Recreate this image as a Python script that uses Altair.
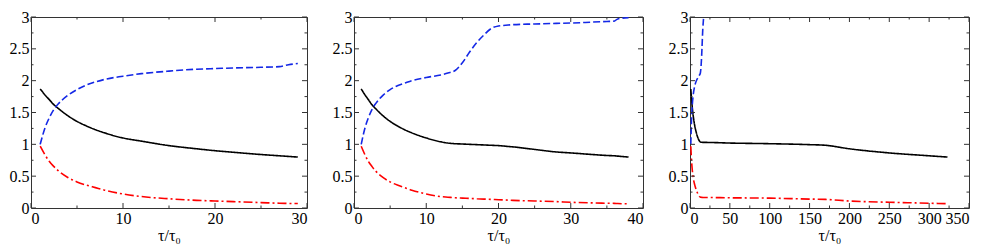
import altair as alt
import pandas as pd

# ---------------- data ----------------
# panel 1
t1 = [1, 1.5, 2, 2.5, 3, 4, 5, 6, 7, 8, 10, 12, 15, 18, 20, 22, 25, 27, 28, 29]
black1 = [1.87, 1.78, 1.70, 1.62, 1.56, 1.45, 1.36, 1.29, 1.23, 1.18, 1.10, 1.05,
          0.98, 0.93, 0.90, 0.875, 0.84, 0.82, 0.81, 0.80]
blue1 = [1.0, 1.25, 1.42, 1.55, 1.64, 1.77, 1.86, 1.93, 1.98, 2.02, 2.07, 2.11,
         2.15, 2.18, 2.19, 2.20, 2.21, 2.22, 2.25, 2.27]
red1 = [0.97, 0.84, 0.73, 0.65, 0.58, 0.48, 0.41, 0.36, 0.32, 0.28, 0.22, 0.18,
        0.145, 0.12, 0.11, 0.10, 0.085, 0.075, 0.072, 0.07]

# panel 2
t2 = [1, 1.5, 2, 2.5, 3, 4, 5, 6, 7, 8, 10, 12, 13, 14, 15, 16, 17, 18, 19, 20,
      21, 22, 25, 28, 30, 33, 35, 36, 36.5, 38]
black2 = [1.87, 1.78, 1.70, 1.62, 1.56, 1.45, 1.36, 1.29, 1.23, 1.18, 1.10, 1.04,
          1.02, 1.01, 1.005, 1.0, 0.995, 0.99, 0.985, 0.98, 0.97, 0.96, 0.92, 0.88,
          0.865, 0.84, 0.825, 0.82, 0.815, 0.80]
blue2 = [1.0, 1.25, 1.42, 1.55, 1.64, 1.77, 1.86, 1.92, 1.96, 2.0, 2.05, 2.09,
         2.12, 2.16, 2.28, 2.45, 2.60, 2.72, 2.82, 2.86, 2.87, 2.88, 2.89, 2.90,
         2.905, 2.92, 2.93, 2.935, 2.97, 2.99]
red2 = [0.97, 0.84, 0.73, 0.65, 0.58, 0.48, 0.41, 0.36, 0.32, 0.28, 0.22, 0.18,
        0.17, 0.16, 0.155, 0.15, 0.145, 0.14, 0.135, 0.13, 0.125, 0.12, 0.11, 0.10,
        0.09, 0.08, 0.075, 0.073, 0.07, 0.065]

# panel 3
t3 = [1, 2, 3, 4, 6, 8, 10, 12, 13, 14, 15, 16, 17, 18, 20, 50, 100, 150, 170,
      200, 250, 300, 323]
black3 = [1.87, 1.70, 1.56, 1.45, 1.29, 1.18, 1.10, 1.05, 1.035, 1.033, 1.032,
          1.031, 1.03, 1.03, 1.03, 1.02, 1.01, 0.995, 0.985, 0.93, 0.865, 0.82, 0.80]
blue3 = [1.0, 1.42, 1.64, 1.77, 1.92, 2.0, 2.05, 2.09, 2.12, 2.25, 2.5, 2.8, 2.98,
         3.15, 3.4, None, None, None, None, None, None, None, None]
red3 = [0.97, 0.73, 0.58, 0.48, 0.36, 0.28, 0.22, 0.18, 0.17, 0.168, 0.167, 0.166,
        0.165, 0.165, 0.165, 0.16, 0.155, 0.14, 0.135, 0.11, 0.09, 0.075, 0.068]

# axis ticks / labels
xmaj1, xmin1, xmax1 = [0, 10, 20, 30], [5, 15, 25], 30
xmaj2, xmin2, xmax2 = [0, 10, 20, 30, 40], [5, 15, 25, 35], 40
xmaj3, xmin3, xmax3 = [0, 50, 100, 150, 200, 250, 300, 350], [25, 75, 125, 175, 225, 275, 325], 350
ymaj = [0, 0.5, 1, 1.5, 2, 2.5, 3]
ymin = [0.25, 0.75, 1.25, 1.75, 2.25, 2.75]
x_title = "τ/τ₀"

series = ["black", "blue", "red"]
series_colors = ["#000000", "#1428e6", "#ff0000"]
series_dash = [[1, 0], [7, 3], [9, 3, 2, 3]]
series_width = [1.6, 1.6, 2.4]

FRAME = "#333333"
FONT = "Liberation Serif"
H = 191
MAJ, MIN = 5, 2.5


def panel(ts, blk, blu, rd, xmaj, xmin, xmax, w):
    df = pd.DataFrame({"t": ts, "black": blk, "blue": blu, "red": rd})
    xsc = alt.Scale(domain=[0, xmax], nice=False, zero=False)
    ysc = alt.Scale(domain=[0, 3], nice=False)
    xax = alt.Axis(values=xmaj, labelExpr="'' + datum.value", title=x_title, titleY=32,
                   titleBaseline="alphabetic")
    yax = alt.Axis(values=ymaj, labelExpr="'' + datum.value", title=None)
    X = lambda: alt.X("t:Q", scale=xsc, axis=xax)
    Y = lambda: alt.Y("v:Q", scale=ysc, axis=yax)
    lines = alt.Chart(df).transform_fold(series, as_=["s", "v"]).transform_filter(
        "isValid(datum.v)"
    ).mark_line(clip=True, interpolate="monotone").encode(
        x=X(), y=Y(),
        color=alt.Color("s:N", scale=alt.Scale(domain=series, range=series_colors), legend=None),
        strokeDash=alt.StrokeDash("s:N", scale=alt.Scale(domain=series, range=series_dash), legend=None),
        strokeWidth=alt.StrokeWidth("s:N", scale=alt.Scale(domain=series, range=series_width), legend=None),
    )
    layers = [lines]
    for vals, ln in ((xmaj, MAJ), (xmin, MIN)):
        d = pd.DataFrame({"t": vals})
        layers.append(alt.Chart(d).mark_rule(color=FRAME, strokeWidth=1).encode(
            x=X(), y=alt.value(H), y2=alt.value(H - ln)))
        layers.append(alt.Chart(d).mark_rule(color=FRAME, strokeWidth=1).encode(
            x=X(), y=alt.value(0), y2=alt.value(ln)))
    for vals, ln in ((ymaj, MAJ), (ymin, MIN)):
        d = pd.DataFrame({"v": vals})
        layers.append(alt.Chart(d).mark_rule(color=FRAME, strokeWidth=1).encode(
            y=Y(), x=alt.value(0), x2=alt.value(ln)))
        layers.append(alt.Chart(d).mark_rule(color=FRAME, strokeWidth=1).encode(
            y=Y(), x=alt.value(w), x2=alt.value(w - ln)))
    return alt.layer(*layers).properties(width=w, height=H)


p1 = panel(t1, black1, blue1, red1, xmaj1, xmin1, xmax1, 276)
p2 = panel(t2, black2, blue2, red2, xmaj2, xmin2, xmax2, 289)
p3 = panel(t3, black3, blue3, red3, xmaj3, xmin3, xmax3, 279)

chart = alt.hconcat(p1, p2, p3, spacing=47, bounds="flush").properties(
    padding=0, background="white"
).configure_view(stroke=FRAME, strokeWidth=1).configure_axis(
    ticks=False, domain=False, grid=False, labelPadding=2,
    labelFont=FONT, labelFontSize=16, labelColor="#000",
    titleFont=FONT, titleFontSize=16, titleFontWeight="normal", titleColor="#000"
)

chart.save("out.html", embed_options={"renderer": "svg", "actions": False})
